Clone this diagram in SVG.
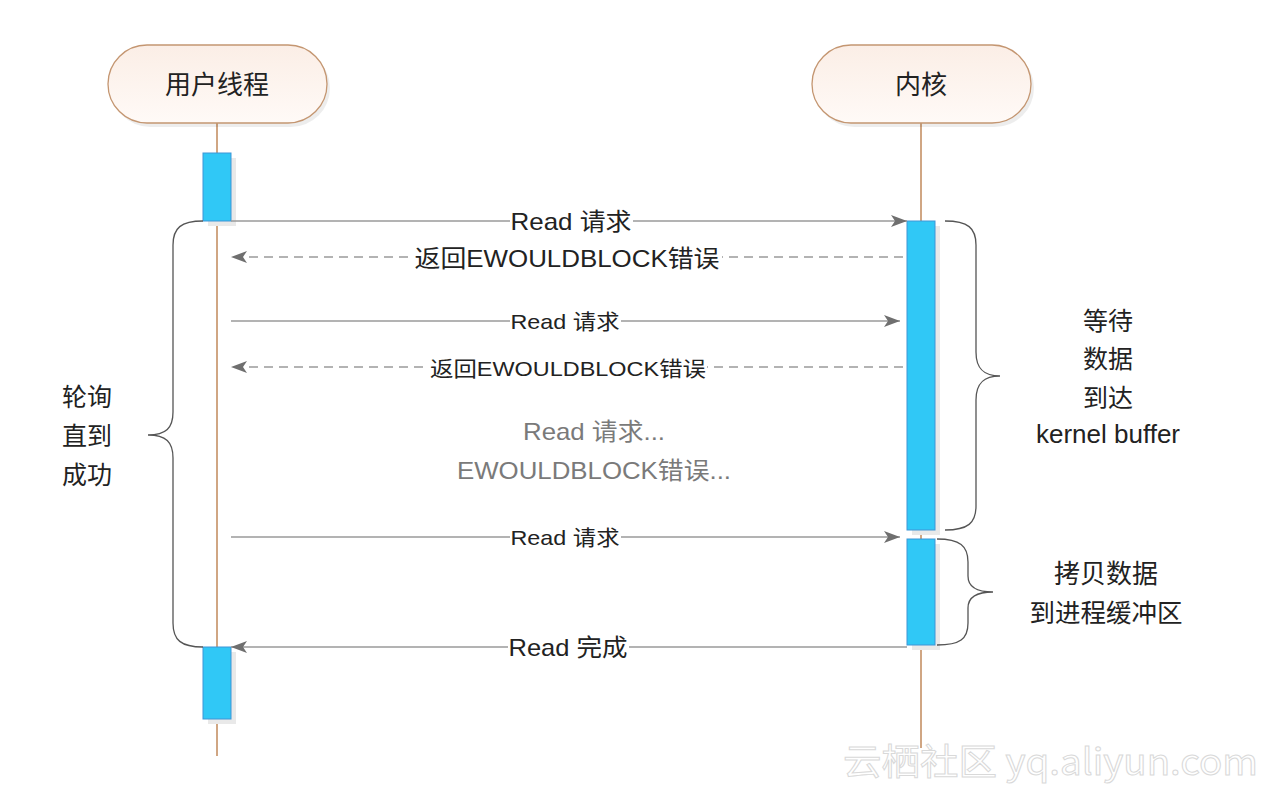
<svg xmlns="http://www.w3.org/2000/svg" width="1270" height="792" viewBox="0 0 1270 792">
<defs>
<linearGradient id="hdr" x1="0" y1="0" x2="0" y2="1">
<stop offset="0" stop-color="#fbeee6"/>
<stop offset="1" stop-color="#fffaf7"/>
</linearGradient>
<marker id="ah" viewBox="0 0 16 12" refX="16" refY="6" markerWidth="16" markerHeight="12" markerUnits="userSpaceOnUse" orient="auto">
<path d="M0,0 L16,6 L0,12 L4,6 Z" fill="#6f6f6f"/>
</marker>
<style>
text{font-family:"Liberation Sans","Noto Sans CJK SC",sans-serif;fill:#222;}
.hdr{fill:url(#hdr);stroke:#c49671;stroke-width:1.3;}
.hsh{fill:#000;opacity:0.07;}
.life{stroke:#c0895a;stroke-width:1.5;}
.act{fill:#30c8f6;stroke:#3f95d6;stroke-width:1;}
.ash{fill:#e9e9e9;}
.msg{stroke:#9a9a9a;stroke-width:1.5;fill:none;}
.dash{stroke-dasharray:9,6;}
.brace{stroke:#555;stroke-width:1.3;fill:none;}
.lbg{fill:#fff;}
.gray{fill:#7a7a7a;}
.wm{fill:#fff;stroke:#d9d9d9;stroke-width:1;font-family:"Noto Sans CJK SC","Liberation Sans",sans-serif;}
</style>
</defs>
<rect width="1270" height="792" fill="#fff"/>

<g id="lifelines">
<line class="life" x1="217" y1="123" x2="217" y2="756"/>
<line class="life" x1="921" y1="123" x2="921" y2="748"/>
</g>

<g id="user-thread">
<rect class="hsh" x="111" y="49" width="219" height="78" rx="39"/>
<rect class="hdr" x="108" y="45" width="219" height="78" rx="39"/>
<text x="217" y="94" font-size="26" text-anchor="middle">用户线程</text>
</g>
<g id="kernel">
<rect class="hsh" x="815" y="49" width="219" height="78" rx="39"/>
<rect class="hdr" x="812" y="45" width="219" height="78" rx="39"/>
<text x="921" y="94" font-size="26" text-anchor="middle">内核</text>
</g>

<g id="activations">
<rect class="ash" x="208" y="158" width="28" height="68"/>
<rect class="act" x="203" y="153" width="28" height="68"/>
<rect class="ash" x="208" y="652" width="28" height="72"/>
<rect class="act" x="203" y="647" width="28" height="72"/>
<rect class="ash" x="912" y="226" width="28" height="309"/>
<rect class="act" x="907" y="221" width="28" height="309"/>
<rect class="ash" x="912" y="544" width="28" height="106"/>
<rect class="act" x="907" y="539" width="28" height="106"/>
</g>

<g id="connectors">
<line class="msg" x1="231" y1="221" x2="907" y2="221" marker-end="url(#ah)"/>
<line class="msg dash" x1="903" y1="257" x2="231" y2="257" marker-end="url(#ah)"/>
<line class="msg" x1="231" y1="321" x2="900" y2="321" marker-end="url(#ah)"/>
<line class="msg dash" x1="903" y1="367" x2="231" y2="367" marker-end="url(#ah)"/>
<line class="msg" x1="231" y1="537" x2="900" y2="537" marker-end="url(#ah)"/>
<line class="msg" x1="907" y1="647" x2="231" y2="647" marker-end="url(#ah)"/>
<path class="brace" d="M203,221 C181,221 173,228 173,245 L173,412 C173,428 166,435 148,435 C166,435 173,442 173,458 L173,623 C173,640 181,647 203,647"/>
<path class="brace" d="M945,221 C968,221 976,228 976,245 L976,352 C976,369 984,376 1000,376 C984,376 976,383 976,400 L976,506 C976,523 968,530 945,530"/>
<path class="brace" d="M937,539 C960,539 968,546 968,562 L968,576 C968,587 976,592 993,592 C976,592 968,597 968,608 L968,623 C968,639 960,645 937,645"/>
</g>

<g id="labels">
<rect class="lbg" x="510" y="207" width="123" height="28"/>
<text x="571" y="230" font-size="24" text-anchor="middle" textLength="121" lengthAdjust="spacingAndGlyphs">Read 请求</text>
<rect class="lbg" x="413" y="243" width="309" height="28"/>
<text x="567" y="267" font-size="24" text-anchor="middle" textLength="305" lengthAdjust="spacingAndGlyphs">返回EWOULDBLOCK错误</text>
<rect class="lbg" x="510" y="308" width="111" height="26"/>
<text x="565" y="329" font-size="21" text-anchor="middle" textLength="109" lengthAdjust="spacingAndGlyphs">Read 请求</text>
<rect class="lbg" x="429" y="354" width="278" height="26"/>
<text x="568" y="376" font-size="21" text-anchor="middle" textLength="276" lengthAdjust="spacingAndGlyphs">返回EWOULDBLOCK错误</text>
<text class="gray" x="594" y="440" font-size="24" text-anchor="middle" textLength="142" lengthAdjust="spacingAndGlyphs">Read 请求...</text>
<text class="gray" x="594" y="479" font-size="24" text-anchor="middle" textLength="274" lengthAdjust="spacingAndGlyphs">EWOULDBLOCK错误...</text>
<rect class="lbg" x="510" y="524" width="111" height="26"/>
<text x="565" y="545" font-size="21" text-anchor="middle" textLength="109" lengthAdjust="spacingAndGlyphs">Read 请求</text>
<rect class="lbg" x="508" y="633" width="121" height="28"/>
<text x="568" y="656" font-size="24" text-anchor="middle" textLength="119" lengthAdjust="spacingAndGlyphs">Read 完成</text>
</g>

<g id="side-notes">
<text x="87" y="406" font-size="25" text-anchor="middle">轮询</text>
<text x="87" y="445" font-size="25" text-anchor="middle">直到</text>
<text x="87" y="484" font-size="25" text-anchor="middle">成功</text>
<text x="1108" y="330" font-size="25" text-anchor="middle">等待</text>
<text x="1108" y="368" font-size="25" text-anchor="middle">数据</text>
<text x="1108" y="407" font-size="25" text-anchor="middle">到达</text>
<text x="1108" y="443" font-size="25" text-anchor="middle" textLength="144" lengthAdjust="spacingAndGlyphs">kernel buffer</text>
<text x="1106" y="583" font-size="26" text-anchor="middle">拷贝数据</text>
<text x="1106" y="622" font-size="25.5" text-anchor="middle">到进程缓冲区</text>
</g>

<g id="watermark">
<text class="wm" x="843" y="775" font-size="36" textLength="415" lengthAdjust="spacingAndGlyphs">云栖社区 yq.aliyun.com</text>
</g>
</svg>
